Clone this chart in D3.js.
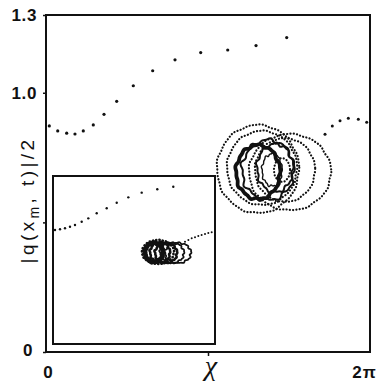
<!DOCTYPE html>
<html>
<head>
<meta charset="utf-8">
<script src="https://cdn.jsdelivr.net/npm/d3@7"></script>
<style>
  body { margin: 0; background: #fff; }
  svg { display: block; }
</style>
</head>
<body>
<div id="chart"></div>
<script>
// main series (x in [0, 2pi], y = |q|/2)
const upperX = [0.064, 0.227, 0.401, 0.562, 0.723, 0.917, 1.125, 1.371, 1.693, 2.069, 2.502, 3.000, 3.524, 4.073, 4.668];
const upperY = [0.872, 0.853, 0.844, 0.841, 0.853, 0.876, 0.917, 0.967, 1.027, 1.085, 1.127, 1.155, 1.165, 1.182, 1.213];
const rightX = [5.411, 5.552, 5.702, 5.863, 6.057, 6.219];
const rightY = [0.840, 0.872, 0.892, 0.902, 0.898, 0.886];

// rings of the main cluster: cx, cy, rx, ry, kind
const mainRings = [
  [4.111, 0.706, 0.795, 0.170, "dot"],
  [4.732, 0.694, 0.795, 0.147, "dot"],
  [4.189, 0.710, 0.679, 0.143, "dot"],
  [4.635, 0.702, 0.582, 0.123, "dot"],
  [4.111, 0.694, 0.427, 0.104, "thick"],
  [4.305, 0.702, 0.504, 0.116, "solid"],
  [4.441, 0.710, 0.349, 0.093, "solid"],
  [4.383, 0.702, 0.194, 0.062, "thin"],
  [4.577, 0.702, 0.155, 0.046, "dot"]
];

// inset series (own frame, x in [0, 2pi], y in [0, 1])
const insetUpperX = [0.078, 0.272, 0.465, 0.659, 0.853, 1.113, 1.369, 1.695, 2.083, 2.471, 2.921, 3.440, 4.045, 4.666];
const insetUpperY = [0.679, 0.683, 0.689, 0.698, 0.708, 0.728, 0.748, 0.778, 0.808, 0.841, 0.873, 0.901, 0.921, 0.936];
const insetRightX = [5.120, 5.250, 5.380, 5.508, 5.636, 5.765, 5.895, 6.025, 6.155];
const insetRightY = [0.609, 0.619, 0.629, 0.636, 0.643, 0.649, 0.655, 0.660, 0.665];
const insetRings = [
  [4.072, 0.548, 0.621, 0.071, "dot"],
  [3.917, 0.545, 0.349, 0.057, "thick"],
  [4.150, 0.545, 0.388, 0.060, "solid"],
  [4.383, 0.542, 0.427, 0.060, "solid"],
  [4.615, 0.542, 0.465, 0.060, "thin"],
  [4.848, 0.542, 0.504, 0.060, "thin"]
];

const yTicks = [0, 0.5, 1.0, 1.3];
const yTickLabels = {0: "0", 1: "1.0", 1.3: "1.3"};
const xTicks = [0, Math.PI, 2 * Math.PI];
const xTickLabels = ["0", "\u03c7", "2\u03c0"];

const W = 382, H = 383;
const frame = {left: 46, right: 370, top: 15, bottom: 352};
const inset = {left: 53, right: 215, top: 176, bottom: 344};

const svg = d3.select("#chart").append("svg")
  .attr("width", W)
  .attr("height", H)
  .style("font-family", "'Liberation Sans', Arial, sans-serif");

const x = d3.scaleLinear().domain([0, 2 * Math.PI]).range([frame.left, frame.right]);
const y = d3.scaleLinear().domain([0, 1.3]).range([frame.bottom, frame.top]);
const ix = d3.scaleLinear().domain([0, 2 * Math.PI]).range([inset.left, inset.right]);
const iy = d3.scaleLinear().domain([0, 1]).range([inset.bottom, inset.top]);

// frame
svg.append("rect")
  .attr("x", frame.left).attr("y", frame.top)
  .attr("width", frame.right - frame.left)
  .attr("height", frame.bottom - frame.top)
  .attr("fill", "none").attr("stroke", "#111").attr("stroke-width", 2);

// y axis
const gy = svg.append("g")
  .attr("transform", `translate(${frame.left},0)`)
  .call(d3.axisLeft(y).tickValues(yTicks).tickSize(3).tickPadding(6)
    .tickFormat(d => yTickLabels[d] || ""));
gy.select(".domain").remove();
gy.selectAll("line").attr("stroke", "#111").attr("stroke-width", 1.5);
gy.selectAll("text")
  .style("font-size", "17px").style("font-weight", "bold")
  .style("letter-spacing", "0.6px").attr("fill", "#111");
gy.selectAll(".tick").filter(d => d === 0).select("text").attr("x", -13).attr("dy", "0.2em");

// x axis
const gx = svg.append("g")
  .attr("transform", `translate(0,${frame.bottom})`)
  .call(d3.axisBottom(x).tickValues(xTicks).tickSize(3).tickPadding(11)
    .tickFormat((d, i) => xTickLabels[i]));
gx.select(".domain").remove();
gx.selectAll("line").attr("stroke", "#111").attr("stroke-width", 1.5)
  .attr("y2", (d, i) => i === 1 ? 4 : 0);
gx.selectAll("text")
  .style("font-size", "17px").style("font-weight", "bold")
  .style("letter-spacing", "1px").attr("fill", "#111");
gx.selectAll(".tick").filter((d, i) => i === 0).select("text").attr("x", 2);
gx.selectAll(".tick").filter((d, i) => i === 2).select("text").attr("x", -6);
gx.selectAll(".tick").filter((d, i) => i === 1).select("text")
  .style("font-family", "'Liberation Serif', 'DejaVu Serif', serif")
  .style("font-style", "italic").style("font-weight", "normal")
  .style("font-size", "28px").attr("y", 3).attr("x", 3);

// y label
const ylab = svg.append("text")
  .attr("transform", "translate(34,200) rotate(-90)")
  .attr("text-anchor", "middle")
  .style("font-size", "19px")
  .style("letter-spacing", "3.4px")
  .attr("fill", "#111");
ylab.append("tspan").text("|q(x");
ylab.append("tspan").text("m").style("font-size", "14px").attr("dy", 5);
ylab.append("tspan").text(", t)|/2").attr("dy", -5);

const ringStyle = {
  dot: {w: 2.2, amp: 0.02},
  thick: {w: 3.8, amp: 0.05},
  solid: {w: 2.0, amp: 0.08},
  thin: {w: 1.4, amp: 0.09}
};

function ringPath(sx, sy, r) {
  const n = 90;
  const amp = ringStyle[r[4]].amp;
  const pts = d3.range(n).map(k => {
    const a = k / n * 2 * Math.PI;
    const f = 1 + amp * (0.6 * Math.sin(9 * a) + 0.4 * Math.sin(17 * a + 2));
    return [sx(r[0] + f * r[2] * Math.cos(a)), sy(r[1] + f * r[3] * Math.sin(a))];
  });
  return d3.line().curve(d3.curveCardinalClosed)(pts);
}

function drawRings(g, sx, sy, rings, wscale) {
  g.selectAll("path.ring").data(rings).enter().append("path")
    .attr("class", "ring")
    .attr("d", r => ringPath(sx, sy, r))
    .attr("fill", "none")
    .attr("stroke", "#111")
    .attr("stroke-linecap", "round")
    .attr("stroke-width", r => ringStyle[r[4]].w * wscale)
    .attr("stroke-dasharray", r => r[4] === "dot" ? "0.1,3.2" : null);
}

// main series dots
const main = svg.append("g");
main.selectAll("circle.u").data(upperX).enter().append("circle")
  .attr("class", "u")
  .attr("cx", d => x(d)).attr("cy", (d, i) => y(upperY[i]))
  .attr("r", 1.6).attr("fill", "#111");
main.selectAll("circle.r").data(rightX).enter().append("circle")
  .attr("class", "r")
  .attr("cx", d => x(d)).attr("cy", (d, i) => y(rightY[i]))
  .attr("r", 1.5).attr("fill", "#111");
drawRings(main, x, y, mainRings, 1);

// inset
const ins = svg.append("g");
ins.append("rect")
  .attr("x", inset.left).attr("y", inset.top)
  .attr("width", inset.right - inset.left)
  .attr("height", inset.bottom - inset.top)
  .attr("fill", "#fff").attr("stroke", "#111").attr("stroke-width", 2);
ins.selectAll("circle.u").data(insetUpperX).enter().append("circle")
  .attr("class", "u")
  .attr("cx", d => ix(d)).attr("cy", (d, i) => iy(insetUpperY[i]))
  .attr("r", 1.2).attr("fill", "#111");
ins.selectAll("circle.r").data(insetRightX).enter().append("circle")
  .attr("class", "r")
  .attr("cx", d => ix(d)).attr("cy", (d, i) => iy(insetRightY[i]))
  .attr("r", 1).attr("fill", "#111");
drawRings(ins, ix, iy, insetRings, 1.25);
</script>
</body>
</html>
